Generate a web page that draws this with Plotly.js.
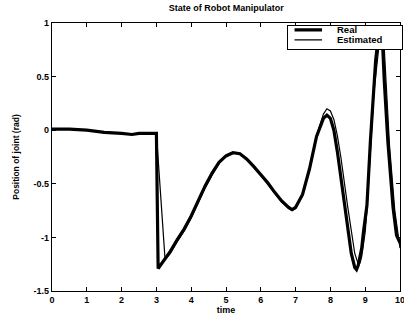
<!DOCTYPE html>
<html><head><meta charset="utf-8">
<script src="https://cdn.plot.ly/plotly-3.0.1.min.js"></script>
<style>html,body{margin:0;padding:0;background:#fff}#c{width:404px;height:320px}</style>
</head><body><div id="c"></div>
<script>
const titleText = "State of Robot Manipulator";
const xLabel = "time";
const yLabel = "Position of joint (rad)";
const seriesNames = ["Real", "Estimated"];
const xTicks = [0,1,2,3,4,5,6,7,8,9,10];
const yTicks = [-1.5,-1,-0.5,0,0.5,1];

const realT = [0,0.5,1.0,1.5,2.0,2.3,2.5,2.8,3.0,3.05,3.2,3.4,3.6,3.8,4.0,4.2,4.4,4.6,4.8,5.0,5.2,5.4,5.6,5.8,6.0,6.2,6.4,6.6,6.8,6.9,7.0,7.2,7.4,7.6,7.8,7.9,8.0,8.1,8.2,8.4,8.6,8.7,8.75,8.8,8.9,8.95,9.05,9.15,9.25,9.3,9.4,9.5,9.55,9.65,9.8,9.9,10];
const realV = [0.01,0.01,0.0,-0.02,-0.03,-0.04,-0.03,-0.03,-0.03,-1.29,-1.22,-1.13,-1.02,-0.92,-0.80,-0.66,-0.52,-0.40,-0.30,-0.24,-0.21,-0.22,-0.27,-0.34,-0.41,-0.49,-0.58,-0.66,-0.72,-0.74,-0.72,-0.60,-0.36,-0.06,0.11,0.14,0.11,0.0,-0.20,-0.70,-1.15,-1.28,-1.30,-1.26,-1.10,-0.95,-0.70,-0.10,0.40,0.65,0.95,0.80,0.45,-0.10,-0.72,-0.98,-1.05];

const estT = [0,0.5,1.0,1.5,2.0,2.3,2.5,2.8,3.0,3.25,3.4,3.6,3.8,4.0,4.2,4.4,4.6,4.8,5.0,5.2,5.4,5.6,5.8,6.0,6.2,6.4,6.6,6.8,6.9,7.0,7.2,7.4,7.6,7.8,7.9,8.0,8.1,8.2,8.3,8.5,8.7,8.8,8.85,8.9,9.0,9.05,9.15,9.25,9.35,9.4,9.45,9.55,9.6,9.7,9.85,9.95,10];
const estV = [0.01,0.01,0.0,-0.02,-0.03,-0.04,-0.03,-0.03,-0.03,-1.21,-1.15,-1.04,-0.94,-0.82,-0.68,-0.54,-0.42,-0.31,-0.24,-0.21,-0.22,-0.27,-0.34,-0.42,-0.50,-0.59,-0.67,-0.73,-0.75,-0.73,-0.61,-0.37,-0.05,0.15,0.20,0.18,0.10,-0.05,-0.25,-0.72,-1.15,-1.25,-1.24,-1.18,-0.95,-0.75,-0.20,0.35,0.65,0.80,0.95,0.75,0.45,-0.15,-0.75,-1.02,-1.10];

const realWidth = 3.2, estWidth = 1.2;
const data = [
  {x: realT, y: realV, type:'scatter', mode:'lines', name:seriesNames[0], line:{color:'#000', width:realWidth}},
  {x: estT, y: estV, type:'scatter', mode:'lines', name:seriesNames[1], line:{color:'#000', width:estWidth}}
];
const fam = 'Liberation Sans, Arial, sans-serif';
const axFont = {family:fam, size:9, color:'#000', weight:'bold'};
// custom legend (paper coordinates), annotations are drawn above the traces
const lg = {x0:0.675, y1:0.993, w:114, h:23, lx1:0.776, sampleLen:29, tx:0.813, rows:[0.974, 0.937]};
const widths = [realWidth, estWidth];
const annotations = [
  {xref:'paper', yref:'paper', x:lg.x0, y:lg.y1, xanchor:'left', yanchor:'top', text:' ', showarrow:false,
   width:lg.w, height:lg.h, bgcolor:'#fff', bordercolor:'#000', borderwidth:1, borderpad:0}
];
seriesNames.forEach((n,i)=>{
  annotations.push({xref:'paper', yref:'paper', x:lg.tx, y:lg.rows[i], xanchor:'left', yanchor:'middle', text:n, showarrow:false,
    font:{family:fam, size:9.5, color:'#000', weight:'bold'}});
  annotations.push({xref:'paper', yref:'paper', x:lg.lx1, y:lg.rows[i], text:'', showarrow:true, arrowhead:0,
    ax:-lg.sampleLen, ay:0, arrowwidth:widths[i], arrowcolor:'#000', standoff:0, startstandoff:0});
});
const layout = {
  width:404, height:320,
  margin:{l:52, r:4, t:23, b:29},
  paper_bgcolor:'#fff', plot_bgcolor:'#fff',
  title:{text:titleText, font:{family:fam, size:9, color:'#000', weight:'bold'}, x:0.56, xanchor:'center', y:0.985, yanchor:'top'},
  xaxis:{range:[0,10], tickvals:xTicks, ticktext:xTicks.map(String), ticks:'inside', ticklen:4, tickcolor:'#000',
    showline:true, linecolor:'#000', linewidth:1.2, mirror:'ticks', showgrid:false, zeroline:false, ticklabeloverflow:'allow',
    tickfont:axFont, title:{text:xLabel, font:axFont, standoff:2}},
  yaxis:{range:[-1.5,1], tickvals:yTicks, ticktext:yTicks.map(String), ticks:'inside', ticklen:4, tickcolor:'#000',
    showline:true, linecolor:'#000', linewidth:1.2, mirror:'ticks', showgrid:false, zeroline:false,
    tickfont:axFont, title:{text:yLabel, font:{family:fam, size:8.5, color:'#000', weight:'bold'}, standoff:12}},
  annotations: annotations,
  showlegend:false
};
Plotly.newPlot('c', data, layout, {staticPlot:true, displayModeBar:false});
</script></body></html>
